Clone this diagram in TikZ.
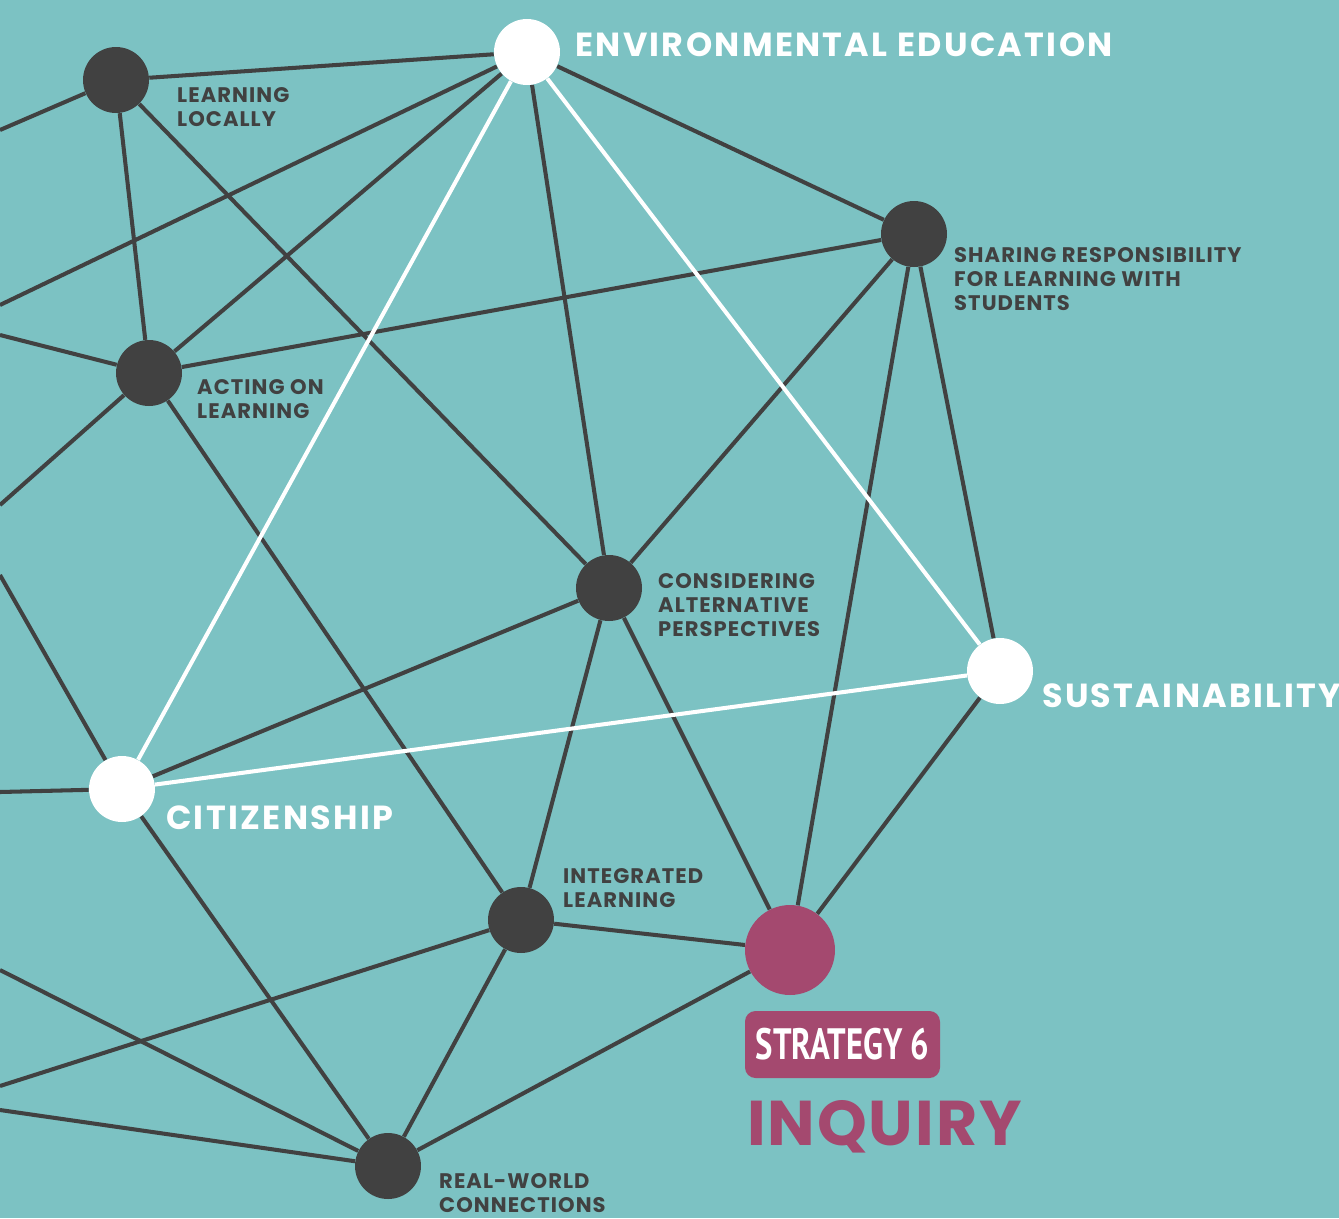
\documentclass[tikz,border=0pt]{standalone}
\usepackage{fontspec}
\setmainfont{Poppins}
\newfontfamily\bigfont[LetterSpace=7]{Poppins}
\newfontfamily\smallfont[LetterSpace=5]{Poppins}
\newfontfamily\inqfont[LetterSpace=3]{Poppins}
\newfontfamily\stratfont{PT Sans}
\definecolor{teal}{HTML}{7CC2C3}
\definecolor{ink}{HTML}{414141}
\definecolor{berry}{HTML}{A4496F}
\pgfdeclarelayer{edges}
\pgfsetlayers{edges,main}
\tikzset{
  darkdot/.style={circle,fill=ink,minimum size=1.32cm,inner sep=0pt},
  whitedot/.style={circle,fill=white,minimum size=1.32cm,inner sep=0pt},
  link/.style={ink,line width=2.3pt},
  wlink/.style={white,line width=2.3pt},
  small/.style={anchor=west,align=left,text=ink,font=\smallfont\fontsize{12}{13.5}\selectfont\bfseries},
  big/.style={anchor=west,text=white,font=\bigfont\fontsize{19}{20}\selectfont\bfseries}
}
\begin{document}
\begin{tikzpicture}[x=0.02cm,y=-0.02cm]
  \useasboundingbox (0,0) rectangle (1339,1218);

  % nodes
  \node[whitedot] (ee) at (527,52) {};
  \node[darkdot] (ll) at (116,80) {};
  \node[darkdot] (sr) at (914,234) {};
  \node[darkdot] (al) at (149,373) {};
  \node[darkdot] (cap) at (609,588) {};
  \node[whitedot] (sus) at (1000,671) {};
  \node[whitedot] (cit) at (122,789) {};
  \node[darkdot] (il) at (521,920) {};
  \node[circle,fill=berry,minimum size=1.8cm,inner sep=0pt] (inq) at (790,950) {};
  \node[darkdot] (rw) at (388,1166) {};

  % loose ends at the left edge
  \coordinate (e1) at (0,130);
  \coordinate (e2) at (0,305);
  \coordinate (e3) at (0,335);
  \coordinate (e4) at (0,505);
  \coordinate (e5) at (0,575);
  \coordinate (e6) at (0,792);
  \coordinate (e7) at (0,970);
  \coordinate (e8) at (0,1086);
  \coordinate (e9) at (0,1110);

  \begin{pgfonlayer}{edges}
    \fill[teal] (0,0) rectangle (1339,1218);
    \draw[link] (e1) -- (ll);
    \draw[link] (e2) -- (ee);
    \draw[link] (e3) -- (al);
    \draw[link] (e4) -- (al);
    \draw[link] (e5) -- (cit);
    \draw[link] (e6) -- (cit);
    \draw[link] (e7) -- (rw);
    \draw[link] (e8) -- (il);
    \draw[link] (e9) -- (rw);
    \draw[link] (ll) -- (ee);
    \draw[link] (ll) -- (al);
    \draw[link] (ll) -- (cap);
    \draw[link] (ee) -- (al);
    \draw[link] (ee) -- (cap);
    \draw[link] (ee) -- (sr);
    \draw[link] (sr) -- (al);
    \draw[link] (sr) -- (cap);
    \draw[link] (sr) -- (inq);
    \draw[link] (sr) -- (sus);
    \draw[link] (al) -- (il);
    \draw[link] (cap) -- (cit);
    \draw[link] (cap) -- (il);
    \draw[link] (cap) -- (inq);
    \draw[link] (sus) -- (inq);
    \draw[link] (cit) -- (rw);
    \draw[link] (il) -- (inq);
    \draw[link] (il) -- (rw);
    \draw[link] (inq) -- (rw);
    \draw[wlink] (ee) -- (cit);
    \draw[wlink] (ee) -- (sus);
    \draw[wlink] (cit) -- (sus);
  \end{pgfonlayer}

  % labels
  \node[big] (eelab) at (569,45) {ENVIRONMENTAL EDUCATION};
  \node[big] (suslab) at (1036,696) {SUSTAINABILITY};
  \node[big] (citlab) at (160,818) {CITIZENSHIP};
  \node[small] (lllab) at (171,107) {LEARNING\\LOCALLY};
  \node[small] (srlab) at (948,279) {SHARING RESPONSIBILITY\\FOR LEARNING WITH\\STUDENTS};
  \node[small] (allab) at (191,399) {ACTING ON\\LEARNING};
  \node[small] (caplab) at (652,605) {CONSIDERING\\ALTERNATIVE\\PERSPECTIVES};
  \node[small] (illab) at (557,888) {INTEGRATED\\LEARNING};
  \node[small] (rwlab) at (433,1193) {REAL-WORLD\\CONNECTIONS};

  \node[fill=berry,rounded corners=6pt,minimum width=195*0.02cm,minimum height=67*0.02cm,inner sep=0pt,text=white]
    (strat) at (842.5,1044.5) {\scalebox{0.745}[1]{\stratfont\fontsize{25}{26}\selectfont\bfseries STRATEGY 6}};
  \node[anchor=west,text=berry,font=\inqfont\fontsize{36}{38}\selectfont\bfseries] (inqlab) at (741,1127) {INQUIRY};
\end{tikzpicture}
\end{document}
